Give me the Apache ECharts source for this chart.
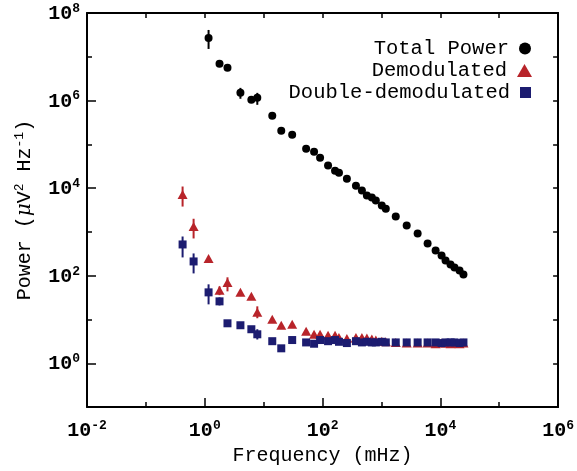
<!DOCTYPE html>
<html>
<head>
<meta charset="utf-8">
<script src="https://cdn.jsdelivr.net/npm/echarts@6/dist/echarts.min.js"></script>
<style>
html,body{margin:0;padding:0;background:#fff;}
#chart{width:577px;height:471px;}
</style>
</head>
<body>
<div id="chart"></div>
<script>
// ---- data (frequency in mHz, power in µV^2 Hz^-1) ----
const freqTotal = [1.16, 1.78, 2.43, 4.03, 6.18, 7.8, 14.0, 19.9, 30.5, 52.6, 71.8, 90.8, 124, 163, 190, 259, 369, 466, 566, 687, 803, 1014, 1186, 1750, 2685, 4120, 6080, 8320, 10500, 12270, 14900, 17400, 21200, 24700];
const powerTotal = [2.7e7, 6.9e6, 5.6e6, 1.5e6, 1.04e6, 1.16e6, 4.5e5, 2.05e5, 1.66e5, 7.96e4, 6.8e4, 4.97e4, 3.27e4, 2.5e4, 2.26e4, 1.65e4, 1.14e4, 8.8e3, 6.76e3, 6.1e3, 5.2e3, 4.0e3, 3.4e3, 2.25e3, 1.4e3, 923, 546, 378, 290, 224, 181, 155, 132, 107];

const freqDemod = [0.42, 0.646, 1.16, 1.78, 2.43, 4.03, 6.18, 7.8, 14.0, 19.9, 30.5, 52.6, 71.8, 90.8, 124, 163, 190, 259, 369, 466, 566, 687, 803, 1014, 1186, 1750, 2685, 4120, 6080, 8320, 10500, 12270, 14900, 17400, 21200, 24700];
const powerDemod = [7130, 1330, 248, 46.4, 70.5, 41.7, 33.8, 14.6, 10.1, 7.4, 7.8, 5.4, 4.6, 4.6, 4.4, 4.4, 3.9, 3.7, 3.9, 3.9, 3.8, 3.6, 3.4, 3.2, 3.1, 3.0, 2.9, 2.9, 2.9, 2.8, 2.9, 2.9, 2.8, 2.9, 2.8, 2.9];
const powerDouble = [518, 212, 41.7, 26, 8.2, 7.4, 6.0, 4.6, 3.2, 2.2, 3.4, 3.0, 2.8, 3.4, 3.2, 3.4, 3.1, 2.9, 3.2, 3.0, 3.1, 3.0, 3.0, 3.1, 3.0, 3.0, 3.0, 3.0, 3.0, 3.0, 2.9, 3.0, 3.0, 3.0, 2.9, 3.0];

// error bars: [frequency, low, high]
const errTotal = [[1.16, 1.51e7, 4.1e7], [4.03, 1.1e6, 1.95e6], [7.8, 8.0e5, 1.5e6]];
const errDemod = [[0.42, 3800, 10900], [0.646, 710, 2000], [1.78, 36, 57], [2.43, 44, 92], [7.8, 10.7, 20]];
const errDouble = [[0.42, 262, 787], [0.646, 113, 323], [1.16, 22.2, 63.6], [1.78, 21, 32], [7.8, 3.5, 6.0]];

// axis ticks / labels
const xDecades = [0.01, 0.1, 1, 10, 100, 1e3, 1e4, 1e5, 1e6];
const xLabels = [0.01, 1, 100, 1e4, 1e6];
const yDecades = [0.1, 1, 10, 100, 1e3, 1e4, 1e5, 1e6, 1e7, 1e8];
const yLabels = [1, 100, 1e4, 1e6, 1e8];

const names = ['Total Power', 'Demodulated', 'Double-demodulated'];
const colors = ['#000000', '#b8242a', '#1c1c70'];

// ---- chart ----
const FONT = 'Liberation Mono';
const zip = (a, b) => a.map((v, i) => [v, b[i]]);
const labelRich = {
  b: {fontFamily: FONT, fontSize: 20, fontWeight: 'bold', color: '#000', lineHeight: 22, verticalAlign: 'bottom'},
  s: {fontFamily: FONT, fontSize: 13, fontWeight: 'bold', color: '#000', lineHeight: 12, verticalAlign: 'top'}
};
const powFmt = v => {
  const e = Math.round(Math.log10(v));
  return '{b|10}{s|' + (e < 0 ? '-' + (-e) : e) + '}';
};

function errSeries(name, data, color) {
  return {
    type: 'custom', name: name, data: data, z: 2,
    encode: {x: 0, y: [1, 2]},
    renderItem: function (params, api) {
      const p1 = api.coord([api.value(0), api.value(1)]);
      const p2 = api.coord([api.value(0), api.value(2)]);
      return {type: 'line', shape: {x1: p1[0], y1: p1[1], x2: p2[0], y2: p2[1]},
              style: {stroke: color, lineWidth: 2}};
    }
  };
}

const legendText = {fontFamily: FONT, fontSize: 20.5, color: '#000', padding: [0, 5, 0, 0]};
const baseLine = {show: true, lineStyle: {color: '#000', width: 2}};
const option = {
  animation: false,
  backgroundColor: '#fff',
  grid: {left: 87, right: 17, top: 13, bottom: 63, containLabel: false},
  xAxis: [
    {type: 'log', min: 0.01, max: 1e6, position: 'bottom',
     axisLine: baseLine,
     axisTick: {show: true, inside: true, length: 9, customValues: xLabels, lineStyle: {color: '#000', width: 1.5}},
     axisLabel: {show: true, customValues: xLabels, margin: 12, formatter: powFmt, rich: labelRich},
     splitLine: {show: false}, minorTick: {show: false},
     name: 'Frequency (mHz)', nameLocation: 'middle', nameGap: 29,
     nameTextStyle: {fontFamily: FONT, fontSize: 20, color: '#000'}},
    {type: 'log', min: 0.01, max: 1e6, position: 'bottom',
     axisLine: {show: false},
     axisTick: {show: true, inside: true, length: 5, customValues: xDecades, lineStyle: {color: '#000', width: 1.5}},
     axisLabel: {show: false}, splitLine: {show: false}},
    {type: 'log', min: 0.01, max: 1e6, position: 'top',
     axisLine: baseLine,
     axisTick: {show: true, inside: true, length: 5, customValues: xDecades, lineStyle: {color: '#000', width: 1.5}},
     axisLabel: {show: false}, splitLine: {show: false}}
  ],
  yAxis: [
    {type: 'log', min: 0.1, max: 1e8, position: 'left',
     axisLine: baseLine,
     axisTick: {show: true, inside: true, length: 9, customValues: yLabels, lineStyle: {color: '#000', width: 1.5}},
     axisLabel: {show: true, customValues: yLabels, margin: 7, formatter: powFmt, rich: labelRich},
     splitLine: {show: false},
     name: 'Power ({g|μ}V{s|2} Hz{s|-1})', nameLocation: 'middle', nameGap: 50, nameRotate: 90,
     nameTextStyle: {fontFamily: FONT, fontSize: 20, color: '#000', lineHeight: 24,
       rich: {g: {fontFamily: 'DejaVu Serif', fontStyle: 'italic', fontSize: 20, color: '#000', lineHeight: 24},
              s: {fontFamily: FONT, fontSize: 13, color: '#000', lineHeight: 12, verticalAlign: 'top'}}}},
    {type: 'log', min: 0.1, max: 1e8, position: 'left',
     axisLine: {show: false},
     axisTick: {show: true, inside: true, length: 5, customValues: yDecades, lineStyle: {color: '#000', width: 1.5}},
     axisLabel: {show: false}, splitLine: {show: false}},
    {type: 'log', min: 0.1, max: 1e8, position: 'right',
     axisLine: baseLine,
     axisTick: {show: true, inside: true, length: 5, customValues: yDecades, lineStyle: {color: '#000', width: 1.5}},
     axisLabel: {show: false}, splitLine: {show: false}}
  ],
  legend: [
    {right: 46, top: 38, itemWidth: 12, itemHeight: 12, icon: 'circle', data: [names[0]],
     textStyle: legendText, align: 'right', padding: 0},
    {right: 45, top: 60, itemWidth: 15, itemHeight: 13, icon: 'triangle', data: [names[1]],
     textStyle: legendText, align: 'right', padding: 0},
    {right: 46, top: 82, itemWidth: 11, itemHeight: 11, icon: 'rect', data: [names[2]],
     textStyle: legendText, align: 'right', padding: 0}
  ],
  series: [
    errSeries('errTotal', errTotal, colors[0]),
    {type: 'scatter', name: names[0], data: zip(freqTotal, powerTotal), symbol: 'circle', symbolSize: 8,
     itemStyle: {color: colors[0], opacity: 1}, z: 3},
    errSeries('errDemod', errDemod, colors[1]),
    {type: 'scatter', name: names[1], data: zip(freqDemod, powerDemod), symbol: 'triangle', symbolSize: [10, 9],
     itemStyle: {color: colors[1], opacity: 1}, z: 3},
    errSeries('errDouble', errDouble, colors[2]),
    {type: 'scatter', name: names[2], data: zip(freqDemod, powerDouble), symbol: 'rect', symbolSize: 8,
     itemStyle: {color: colors[2], opacity: 1}, z: 4}
  ]
};
const chart = echarts.init(document.getElementById('chart'), null, {renderer: 'canvas'});
chart.setOption(option);
</script>
</body>
</html>
